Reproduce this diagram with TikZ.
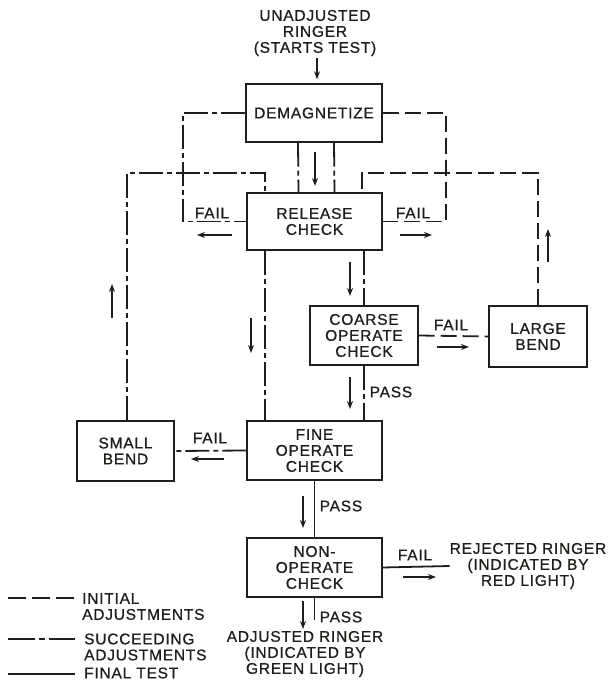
\documentclass[tikz,border=0pt]{standalone}
\usepackage{fontspec}
\setmainfont{Liberation Sans}[LetterSpace=5,FakeBold=0.8]
\usetikzlibrary{arrows.meta,calc}
\definecolor{ink}{HTML}{1E1E1A}
\begin{document}
\begin{tikzpicture}[x=1pt,y=-1pt,
  every node/.style={font=\fontsize{15.5}{16}\selectfont, text=ink, align=center, inner sep=0pt},
  box/.style={draw=ink, line width=1.4pt, fill=white},
  conn/.style={draw=ink, line width=1.8pt},
  init/.style={conn, dash pattern=on 16pt off 6pt},
  succ/.style={conn, dash pattern=on 24pt off 4pt on 5pt off 4pt},
  fin/.style={conn},
  farrow/.style={draw=ink, line width=1.8pt, -{Stealth[length=8pt,width=6pt]}}]
\useasboundingbox (0,0) rectangle (609,684);

% boxes
\node[box, minimum width=136pt, minimum height=58pt] (demag) at (314,113) {DEMAGNETIZE};
\node[box, minimum width=135pt, minimum height=57pt] (release) at (314.5,221.5) {RELEASE\\CHECK};
\node[box, minimum width=108pt, minimum height=59pt] (coarse) at (364,335.5) {COARSE\\OPERATE\\CHECK};
\node[box, minimum width=98pt, minimum height=61pt] (large) at (538,336.5) {LARGE\\BEND};
\node[box, minimum width=135pt, minimum height=59pt] (fine) at (314.5,450.5) {FINE\\OPERATE\\CHECK};
\node[box, minimum width=97pt, minimum height=60pt] (small) at (125.5,451) {SMALL\\BEND};
\node[box, minimum width=135pt, minimum height=59pt] (nonop) at (314.5,567.5) {NON-\\OPERATE\\CHECK};
\node (title) at (315,33) {UNADJUSTED\\RINGER\\(STARTS TEST)};
\node (reject) at (528,566) {REJECTED RINGER\\(INDICATED BY\\RED LIGHT)};
\node (adjusted) at (305,654) {ADJUSTED RINGER\\(INDICATED BY\\GREEN LIGHT)};

% connectors
\draw[farrow, shorten <=2pt, shorten >=4pt] (title.south -| 317,0) -- (demag.north -| 317,0);
\coordinate (lx) at (183,160);
\coordinate (rx) at (446,160);
\draw[succ] (demag.west) -| (lx) |- (release.west);
\draw[init] (demag.east) -| (rx) |- (release.east);
\draw[succ] ([xshift=-16pt]demag.south) -- ([xshift=-16pt]release.north);
\draw[succ] ([xshift=20pt]demag.south) -- ([xshift=20pt]release.north);
\coordinate (sk) at (265,173);
\coordinate (lk) at (362,173);
\draw[succ] ([xshift=1.5pt]small.north) |- (sk) -- (sk |- release.north);
\draw[init] (large.north) |- (lk) -- (lk |- release.north);
\draw[succ] (sk |- release.south) -- (sk |- fine.north);
\draw[succ] (coarse.north |- release.south) -- (coarse.north);
\draw[succ] (coarse.south) -- (coarse.south |- fine.north);
\draw[init] (coarse.east) -- (large.west);
\draw[succ] (fine.west) -- (small.east);
\draw[fin] (fine.south) -- (nonop.north);
\draw[fin] (nonop.east) -- (reject.west);
\draw[fin] (nonop.south) -- ([yshift=-22pt]nonop.south);

% floating arrows
\draw[farrow] (315,152) -- (315,186);
\draw[farrow] (232,235) -- (197,235);
\draw[farrow] (400,235) -- (432,235);
\draw[farrow] (350,262) -- (350,296);
\draw[farrow] (251,318) -- (251,353);
\draw[farrow] (112,318) -- (112,284);
\draw[farrow] (548,262) -- (548,229);
\draw[farrow] (437,347) -- (469,347);
\draw[farrow] (350,377) -- (350,409);
\draw[farrow] (224,459) -- (191,459);
\draw[farrow] (303,496) -- (303,528);
\draw[farrow] (403,577) -- (436,577);
\draw[farrow] (303,601) -- (303,629);

% labels
\node (f1) at (212,213) {FAIL};
\node (f2) at (413,213) {FAIL};
\node (f3) at (451,325) {FAIL};
\node (f4) at (210,438) {FAIL};
\node (f5) at (415,555) {FAIL};
\node (p1) at (391,392) {PASS};
\node (p2) at (341,506) {PASS};
\node (p3) at (341,617) {PASS};

% legend
\node[anchor=west, align=left] (leg1) at (82,606.5) {INITIAL\\ADJUSTMENTS};
\node[anchor=west, align=left] (leg2) at (84,647) {SUCCEEDING\\ADJUSTMENTS};
\node[anchor=west, align=left] (leg3) at (84,673) {FINAL TEST};
\coordinate (la) at (8,598);
\coordinate (lb) at (8,639);
\coordinate (lc) at (8,674);
\draw[init, dash pattern=on 18pt off 6pt] (la) -- ([xshift=-7pt]la -| leg1.west);
\draw[succ, dash pattern=on 27pt off 4pt on 6pt off 4pt] (lb) -- ([xshift=-9pt]lb -| leg2.west);
\draw[fin] (lc) -- ([xshift=-9pt]lc -| leg3.west);
\end{tikzpicture}
\end{document}
